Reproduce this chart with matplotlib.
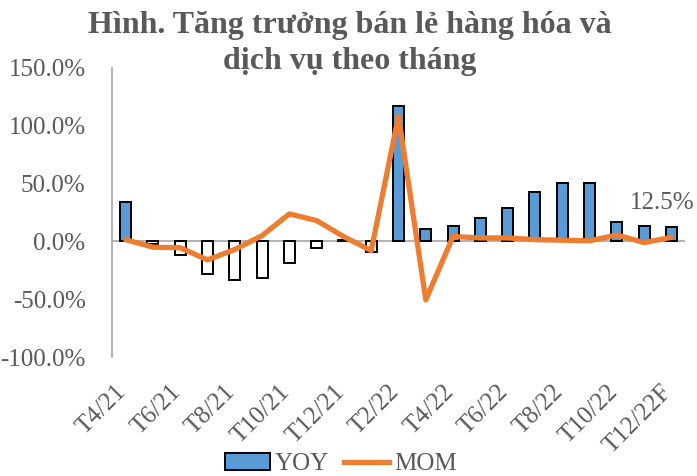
import matplotlib
matplotlib.use("Agg")
import matplotlib.pyplot as plt
import matplotlib.transforms as mtransforms
from matplotlib.patches import Patch
from matplotlib.lines import Line2D
import numpy as np

months = ["T4/21", "T5/21", "T6/21", "T7/21", "T8/21", "T9/21", "T10/21", "T11/21", "T12/21",
          "T1/22", "T2/22", "T3/22", "T4/22", "T5/22", "T6/22", "T7/22", "T8/22", "T9/22",
          "T10/22", "T11/22", "T12/22F"]
yoy = [34.2, -2.0, -12.0, -28.0, -33.5, -32.0, -18.5, -6.0, 1.0,
       -9.0, 116.7, 10.4, 13.0, 20.0, 28.6, 43.0, 50.7, 50.7,
       17.0, 13.6, 12.5]
mom = [1.5, -5.0, -5.5, -16.0, -7.0, 5.0, 23.8, 18.0, 4.0,
       -8.0, 108.5, -50.6, 4.3, 3.0, 3.0, 1.5, 1.0, 0.5,
       5.5, -1.0, 3.5]
yticks = [-100, -50, 0, 50, 100, 150]
title_lines = ["Hình. Tăng trưởng bán lẻ hàng hóa và", "dịch vụ theo tháng"]
last_label = "12.5%"

plt.rcParams['font.family'] = ['Liberation Serif', 'DejaVu Serif']
gray = "#595959"
blue = "#5B9BD5"
orange = "#ED7D31"

fig = plt.figure(figsize=(6.97, 4.76), dpi=100)
ax = fig.add_axes([112/697, 1-357/476, (685-112)/697, (357-68)/476])

x = np.arange(len(months))
colors = [blue if v >= 0 else "white" for v in yoy]
ax.bar(x, yoy, width=0.4, color=colors, edgecolor="black", linewidth=1.4, zorder=2)
ax.plot(x, mom, color=orange, linewidth=3.8, zorder=3, solid_capstyle="round")
ax.axhline(0, color="#A6A6A6", linewidth=1.2, zorder=1)

ax.set_xlim(-0.5, len(months)-0.5)
ax.set_ylim(-100, 150)
ax.set_yticks(yticks)
ax.set_yticklabels([f"{v:.1f}%" for v in yticks], fontsize=18, color=gray)
ax.set_xticks(x[::2])
ax.set_xticklabels(months[::2], fontsize=18, color=gray, rotation=45, ha="right", va="top")
ax.tick_params(axis="x", length=0, pad=17)
ax.tick_params(axis="y", length=0, pad=19)
offset = mtransforms.ScaledTranslation(5/100, 0, fig.dpi_scale_trans)
for lbl in ax.get_xticklabels():
    lbl.set_transform(lbl.get_transform() + offset)

for s in ["top", "right", "bottom"]:
    ax.spines[s].set_visible(False)
ax.spines["left"].set_color("#A6A6A6")
ax.spines["left"].set_linewidth(1.2)

fig.text(694/697, 1-203/476, last_label, fontsize=18, color=gray, ha="right", va="center")

for i, line in enumerate(title_lines):
    fig.text(350/697, 1-(33+36*i)/476, line, fontsize=23, fontweight="bold", color=gray,
             ha="center", va="baseline")

handles = [Patch(facecolor=blue, edgecolor="black", linewidth=1.4),
           Line2D([0], [0], color=orange, linewidth=3.8)]
fig.legend(handles, ["YOY", "MOM"], loc="center", bbox_to_anchor=(341/697, 1-464/476),
           ncol=2, frameon=False, fontsize=18, labelcolor=gray, handlelength=1.8,
           handletextpad=0.2, columnspacing=0.6, borderpad=0)

fig.savefig("out.png", dpi=100)
